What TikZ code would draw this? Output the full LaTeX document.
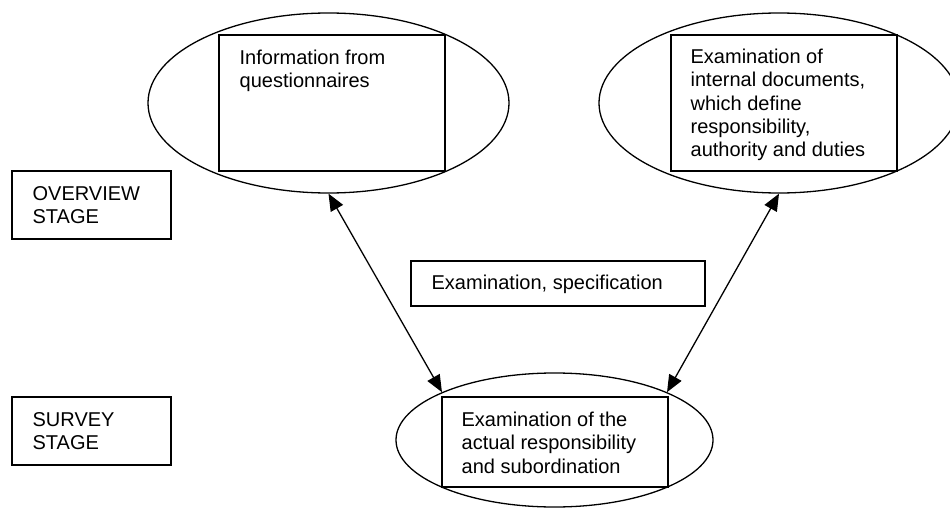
\documentclass[tikz,border=0pt]{standalone}
\usepackage{fontspec}
\setmainfont{Liberation Sans}
\usetikzlibrary{shapes.geometric,arrows.meta}
\begin{document}
\begin{tikzpicture}[x=1pt,y=-1pt,line width=1.3pt,
  oval/.style={draw,ellipse,inner sep=0pt},
  box/.style={draw,rectangle,inner sep=0pt},
  txt/.style={anchor=north west,inner sep=0pt,align=left,font=\fontsize{20}{23.3}\selectfont},
  arr/.style={{Triangle[length=17pt,width=14pt]}-{Triangle[length=17pt,width=14pt]},line width=1.3pt}]
\clip (0,0) rectangle (950,508);
% ellipses
\node[oval,minimum width=361pt,minimum height=180pt] (e1) at (328.5,103) {};
\node[oval,minimum width=360pt,minimum height=180pt] (e2) at (779,103) {};
\node[oval,minimum width=317pt,minimum height=134pt] (e3) at (554.5,440) {};
% boxes
\node[box,minimum width=226pt,minimum height=136pt] (r1) at (332,103) {};
\node[box,minimum width=226pt,minimum height=136pt] (r2) at (784,103) {};
\node[box,minimum width=226pt,minimum height=90pt] (r3) at (555,442) {};
\node[box,minimum width=159pt,minimum height=68pt] (ob) at (91.5,205) {};
\node[box,minimum width=159pt,minimum height=68pt] (sb) at (91.5,431) {};
\node[box,minimum width=294pt,minimum height=45pt] (xb) at (558,283.5) {};
% texts
\node[txt] (t1) at (239,49.5) {Information from\\questionnaires};
\node[txt] (t2) at (690,48.5) {Examination of\\internal documents,\\which define\\responsibility,\\authority and duties};
\node[txt] (t3) at (32,185.5) {OVERVIEW\\STAGE};
\node[txt] (t4) at (32,411.5) {SURVEY\\STAGE};
\node[txt] (t5) at (431,274.5) {Examination, specification};
\node[txt] (t6) at (461,411.5) {Examination of the\\actual responsibility\\and subordination};
% connectors
\draw[arr] (e1.south) -- (e3.north west);
\draw[arr] (e2.south) -- (e3.north east);
\end{tikzpicture}
\end{document}
